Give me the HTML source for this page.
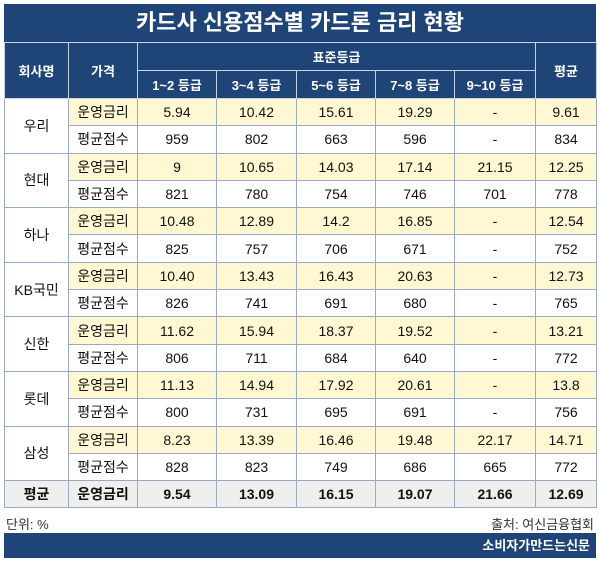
<!DOCTYPE html>
<html><head><meta charset="utf-8"><style>
body{margin:0;background:#fff;width:600px;height:564px;position:relative;font-family:"Liberation Sans","Noto Sans CJK KR",sans-serif;}
.title{position:absolute;left:4px;top:4px;width:592px;height:38px;background:#1f4477;color:#fff;font-size:22px;font-weight:bold;text-align:center;line-height:38px;}
table{position:absolute;left:4px;top:42px;border-collapse:collapse;table-layout:fixed;width:592px;}
td,th{border:1px solid #9aaac6;text-align:center;font-size:14px;padding:0;height:26.3px;color:#111;}
th{background:#1f4477;color:#fff;font-weight:bold;border-color:#c9d3e3;font-size:13px;}
td.y{background:#fff8d2;}
tr.avg td{background:#efefef;font-weight:bold;font-size:14px;}
.foot{position:absolute;top:514px;font-size:13px;color:#333;}
.bar{position:absolute;left:4px;top:533px;width:592px;height:25px;background:#1f4477;color:#fff;font-size:13px;font-weight:bold;text-align:right;line-height:25px;}
</style></head><body>
<div class="title">카드사 신용점수별 카드론 금리 현황</div>
<table>
<colgroup><col style="width:64px"><col style="width:69px"><col style="width:79px"><col style="width:80px"><col style="width:79px"><col style="width:79px"><col style="width:81px"><col style="width:61px"></colgroup>
<tr><th rowspan="2" style="height:55px">회사명</th><th rowspan="2">가격</th><th colspan="5" style="height:27px">표준등급</th><th rowspan="2">평균</th></tr>
<tr><th style="height:27px">1~2 등급</th><th>3~4 등급</th><th>5~6 등급</th><th>7~8 등급</th><th>9~10 등급</th></tr>
<tr><td rowspan="2">우리</td><td class="y">운영금리</td><td class="y">5.94</td><td class="y">10.42</td><td class="y">15.61</td><td class="y">19.29</td><td class="y">-</td><td class="y">9.61</td></tr>
<tr><td>평균점수</td><td>959</td><td>802</td><td>663</td><td>596</td><td>-</td><td>834</td></tr>
<tr><td rowspan="2">현대</td><td class="y">운영금리</td><td class="y">9</td><td class="y">10.65</td><td class="y">14.03</td><td class="y">17.14</td><td class="y">21.15</td><td class="y">12.25</td></tr>
<tr><td>평균점수</td><td>821</td><td>780</td><td>754</td><td>746</td><td>701</td><td>778</td></tr>
<tr><td rowspan="2">하나</td><td class="y">운영금리</td><td class="y">10.48</td><td class="y">12.89</td><td class="y">14.2</td><td class="y">16.85</td><td class="y">-</td><td class="y">12.54</td></tr>
<tr><td>평균점수</td><td>825</td><td>757</td><td>706</td><td>671</td><td>-</td><td>752</td></tr>
<tr><td rowspan="2">KB국민</td><td class="y">운영금리</td><td class="y">10.40</td><td class="y">13.43</td><td class="y">16.43</td><td class="y">20.63</td><td class="y">-</td><td class="y">12.73</td></tr>
<tr><td>평균점수</td><td>826</td><td>741</td><td>691</td><td>680</td><td>-</td><td>765</td></tr>
<tr><td rowspan="2">신한</td><td class="y">운영금리</td><td class="y">11.62</td><td class="y">15.94</td><td class="y">18.37</td><td class="y">19.52</td><td class="y">-</td><td class="y">13.21</td></tr>
<tr><td>평균점수</td><td>806</td><td>711</td><td>684</td><td>640</td><td>-</td><td>772</td></tr>
<tr><td rowspan="2">롯데</td><td class="y">운영금리</td><td class="y">11.13</td><td class="y">14.94</td><td class="y">17.92</td><td class="y">20.61</td><td class="y">-</td><td class="y">13.8</td></tr>
<tr><td>평균점수</td><td>800</td><td>731</td><td>695</td><td>691</td><td>-</td><td>756</td></tr>
<tr><td rowspan="2">삼성</td><td class="y">운영금리</td><td class="y">8.23</td><td class="y">13.39</td><td class="y">16.46</td><td class="y">19.48</td><td class="y">22.17</td><td class="y">14.71</td></tr>
<tr><td>평균점수</td><td>828</td><td>823</td><td>749</td><td>686</td><td>665</td><td>772</td></tr>
<tr class="avg"><td>평균</td><td>운영금리</td><td>9.54</td><td>13.09</td><td>16.15</td><td>19.07</td><td>21.66</td><td>12.69</td></tr>
</table>
<div class="foot" style="left:6px">단위: %</div>
<div class="foot" style="right:6px">출처: 여신금융협회</div>
<div class="bar"><span style="padding-right:6px">소비자가만드는신문</span></div>
</body></html>
